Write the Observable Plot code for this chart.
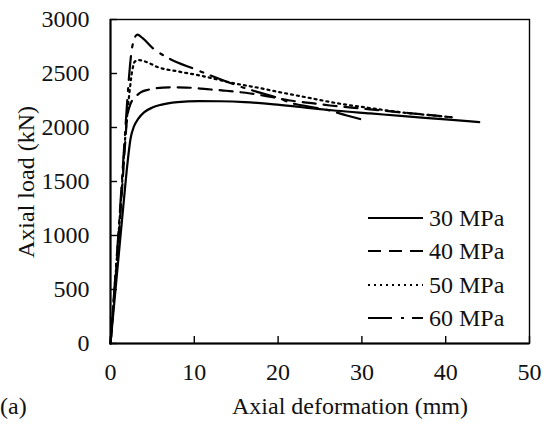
<!DOCTYPE html>
<html>
<head>
<meta charset="utf-8">
<script src="https://cdn.jsdelivr.net/npm/d3@7"></script>
<script src="https://cdn.jsdelivr.net/npm/@observablehq/plot@0.6"></script>
<style>
  html, body { margin: 0; padding: 0; background: #fff; }
  #chart { width: 547px; height: 432px; }
</style>
</head>
<body>
<div id="chart"></div>
<script>
// ---- data ----
const seriesNames = ["30 MPa", "40 MPa", "50 MPa", "60 MPa"];

const def30  = [0, 0.6, 1.2, 1.6, 2.0, 2.4, 2.8, 3.3, 4, 5, 6, 8, 10.5, 13, 16, 19.5, 22.6, 25, 27, 31, 35, 40, 44];
const load30 = [0, 500, 1000, 1330, 1650, 1900, 2010, 2080, 2140, 2185, 2210, 2235, 2245, 2243, 2235, 2215, 2190, 2170, 2155, 2130, 2105, 2075, 2050];

const def40  = [0, 0.5, 1.0, 1.4, 1.7, 2.0, 2.4, 3, 3.6, 4.5, 5.5, 7, 9, 11.5, 13.5, 16.7, 19, 21.4, 24, 26.2, 30, 34, 37.5, 40.7];
const load40 = [0, 500, 1000, 1450, 1800, 2100, 2220, 2285, 2325, 2350, 2365, 2372, 2370, 2355, 2342, 2315, 2285, 2250, 2225, 2204, 2175, 2145, 2120, 2095];

const def50  = [0, 0.5, 1.0, 1.4, 1.7, 2.0, 2.3, 2.6, 2.9, 3.3, 4.5, 5.6, 8, 10.7, 13, 15, 17.5, 20, 23, 27.4, 31, 34.5, 38, 40.7];
const load50 = [0, 520, 1050, 1500, 1850, 2120, 2350, 2530, 2610, 2625, 2600, 2560, 2520, 2481, 2440, 2405, 2370, 2330, 2285, 2220, 2180, 2142, 2115, 2095];

const def60  = [0, 0.5, 1.0, 1.4, 1.7, 2.0, 2.3, 2.5, 2.8, 3.2, 3.8, 5.1, 6.5, 8, 9.9, 11.5, 13.5, 15.1, 17.5, 20.2, 21.4, 24, 26, 28.2, 30.7];
const load60 = [0, 540, 1080, 1550, 1900, 2250, 2550, 2700, 2810, 2860, 2830, 2731, 2660, 2602, 2546, 2495, 2435, 2389, 2330, 2268, 2231, 2190, 2160, 2111, 2060];

const xTicks = [0, 10, 20, 30, 40, 50];
const yTicks = [0, 500, 1000, 1500, 2000, 2500, 3000];
const xLabel = "Axial deformation (mm)";
const yLabel = "Axial load (kN)";
const panelLabel = "(a)";

// ---- styles ----
const dashes = [null, "13,8", "2,4", "24,9,3,8"];
const FONT = "Liberation Serif, Times New Roman, serif";
const FS = 24;

const toRows = (xs, ys, name) => xs.map((x, i) => ({x, y: ys[i], s: name}));
const series = [
  toRows(def30, load30, seriesNames[0]),
  toRows(def40, load40, seriesNames[1]),
  toRows(def50, load50, seriesNames[2]),
  toRows(def60, load60, seriesNames[3])
];

const W = 547, H = 432, mL = 110, mR = 18, mT = 19, mB = 89;
const pw = W - mL - mR, ph = H - mT - mB;
const tickLen = 7;

const lineMarks = series.map((rows, i) =>
  Plot.line(rows, {x: "x", y: "y", stroke: "#000", strokeWidth: 2.2,
    strokeDasharray: dashes[i] || undefined, curve: "monotone-x"}));

const plot = Plot.plot({
  width: W, height: H,
  marginLeft: mL, marginRight: mR, marginTop: mT, marginBottom: mB,
  style: {fontFamily: FONT, fontSize: FS + "px", color: "#111", background: "#fff"},
  x: {domain: [0, 50]},
  y: {domain: [0, 3000]},
  marks: [
    Plot.frame({stroke: "#000", strokeWidth: 1.4}),
    Plot.ruleY([0], {stroke: "#000", strokeWidth: 2}),
    Plot.ruleX([0], {stroke: "#000", strokeWidth: 2}),
    Plot.tickX(xTicks, {x: d => d, stroke: "#000", strokeWidth: 1.4, insetTop: ph - tickLen}),
    Plot.tickY(yTicks, {y: d => d, stroke: "#000", strokeWidth: 1.4, insetRight: pw - tickLen}),
    Plot.axisX({ticks: xTicks, tickSize: 0, tickPadding: 19, label: null, fontSize: FS, fill: "#111",
      tickFormat: d => String(d)}),
    Plot.axisY({ticks: yTicks, tickSize: 0, tickPadding: 21, label: null, fontSize: FS, fill: "#111",
      tickFormat: d => String(d)}),
    ...lineMarks
  ]
});

document.getElementById("chart").appendChild(plot);

// ---- titles and legend (layout) ----
const svg = d3.select(plot);
svg.append("text")
  .attr("x", 350).attr("y", 414)
  .attr("text-anchor", "middle")
  .attr("font-family", FONT).attr("font-size", FS).attr("fill", "#111")
  .text(xLabel);
svg.append("text")
  .attr("transform", "translate(34,182) rotate(-90)")
  .attr("text-anchor", "middle")
  .attr("font-family", FONT).attr("font-size", FS).attr("fill", "#111")
  .text(yLabel);
svg.append("text")
  .attr("x", 0).attr("y", 414)
  .attr("text-anchor", "start")
  .attr("font-family", FONT).attr("font-size", FS).attr("fill", "#111")
  .text(panelLabel);

const legY = [218, 251, 285, 318];
const leg = svg.append("g");
seriesNames.forEach((name, i) => {
  leg.append("line")
    .attr("x1", 368).attr("x2", 423)
    .attr("y1", legY[i]).attr("y2", legY[i])
    .attr("stroke", "#000").attr("stroke-width", 2.2)
    .attr("stroke-dasharray", dashes[i]);
  leg.append("text")
    .attr("x", 429).attr("y", legY[i]).attr("dy", "0.35em")
    .attr("text-anchor", "start")
    .attr("font-family", FONT).attr("font-size", FS).attr("fill", "#111")
    .text(name);
});
</script>
</body>
</html>
